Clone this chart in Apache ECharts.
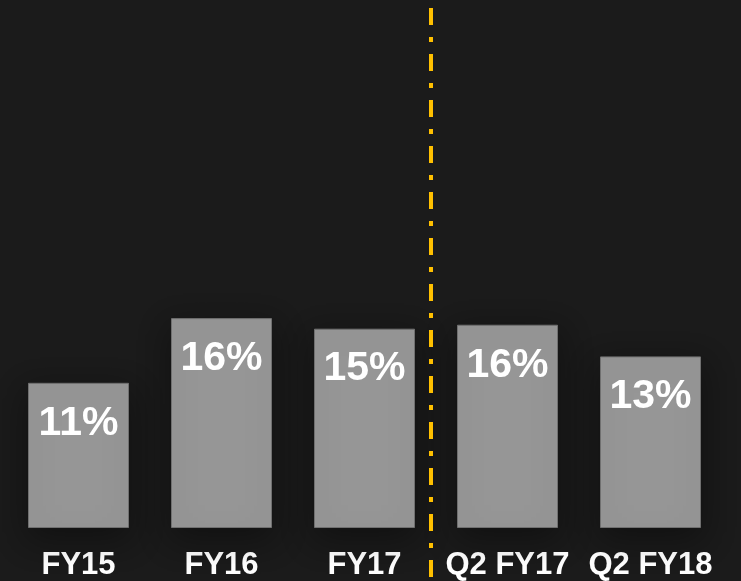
<!DOCTYPE html>
<html>
<head>
<meta charset="utf-8">
<script src="https://cdn.jsdelivr.net/npm/echarts@6/dist/echarts.min.js"></script>
<style>
  html, body { margin: 0; padding: 0; background: #1b1b1b; }
  #chart { width: 741px; height: 581px; }
</style>
</head>
<body>
<div id="chart"></div>
<script>
// data
var categories = ['FY15', 'FY16', 'FY17', 'Q2 FY17', 'Q2 FY18'];
var values = [11.0, 15.9, 15.1, 15.4, 13.0];
var labels = ['11%', '16%', '15%', '16%', '13%'];
var splitAfter = 2; // dash-dot line between FY17 and Q2 FY17

var chart = echarts.init(document.getElementById('chart'));

var option = {
  backgroundColor: '#1b1b1b',
  animation: false,
  grid: { left: 7, right: 19, top: 0, bottom: 53 },
  xAxis: {
    type: 'category',
    data: categories,
    axisLine: { show: false },
    axisTick: { show: false },
    axisLabel: {
      color: '#ffffff',
      fontFamily: 'Liberation Sans, Arial, sans-serif',
      fontWeight: 'bold',
      fontSize: 31,
      margin: 22,
      interval: 0
    }
  },
  yAxis: {
    type: 'value',
    min: 0,
    max: 40,
    show: false,
    splitLine: { show: false }
  },
  series: [
    {
      type: 'bar',
      data: values,
      barWidth: 101,
      itemStyle: {
        color: '#969696',
        borderColor: '#707070',
        borderWidth: 1,
        shadowColor: 'rgba(0,0,0,0.35)',
        shadowBlur: 30,
        shadowOffsetY: 10
      },
      label: {
        show: true,
        position: 'insideTop',
        distance: 20,
        color: '#ffffff',
        fontFamily: 'Liberation Sans, Arial, sans-serif',
        fontWeight: 'bold',
        fontSize: 41,
        formatter: function (p) { return labels[p.dataIndex]; }
      }
    }
  ]
};

chart.setOption(option);

// vertical separator between the two groups (sits a little left of the gap centre)
var x1 = chart.convertToPixel({ xAxisIndex: 0 }, categories[splitAfter]);
var x2 = chart.convertToPixel({ xAxisIndex: 0 }, categories[splitAfter + 1]);
var xs = Math.round((x1 + x2) / 2) - 5;
chart.setOption({
  graphic: [{
    type: 'line',
    z: 10,
    shape: { x1: xs, y1: 8, x2: xs, y2: 581 },
    style: { stroke: '#ffc000', lineWidth: 4, lineDash: [17, 12, 5, 12] }
  }]
});
</script>
</body>
</html>
